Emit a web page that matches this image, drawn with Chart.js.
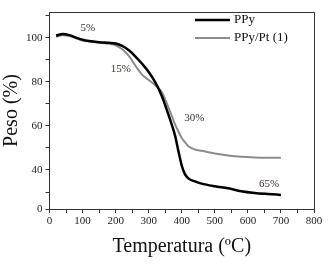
<!DOCTYPE html>
<html>
<head>
<meta charset="utf-8">
<script src="https://cdn.jsdelivr.net/npm/chart.js@4.4.0/dist/chart.umd.min.js"></script>
<style>
  body { margin: 0; background: #fff; }
  #wrap { width: 333px; height: 265px; }
</style>
</head>
<body>
<div id="wrap"><canvas id="tgaChart" width="333" height="265"></canvas></div>
<script>
// Data
const temps = [20, 40, 60, 80, 100, 120, 150, 180, 200, 220, 240, 260, 280, 300, 320, 340, 360, 370, 380, 390, 400, 410, 420, 440, 460, 500, 540, 580, 620, 660, 700];
const ppy   = [101, 101.7, 101.2, 100.1, 99.1, 98.5, 98, 97.7, 97.4, 96.3, 94.3, 91.5, 88.2, 84.5, 79.8, 73.5, 65, 60.5, 55.5, 48.5, 42, 38, 36.2, 34.8, 33.8, 32.6, 31.7, 30.4, 29.6, 29.1, 28.7];
const ppyPt = [100.5, 101.2, 100.8, 99.8, 98.8, 98.3, 97.8, 97.3, 96.6, 94.8, 91.8, 87.3, 83.3, 80.8, 78.5, 75.3, 68.3, 64.5, 60.6, 57.5, 54.5, 52.5, 50.8, 49.3, 48.7, 47.5, 46.6, 46, 45.7, 45.6, 45.6];
const seriesNames = ['PPy', 'PPy/Pt (1)'];

const yMin = 22.3, yMax = 111.7;
const yTickValues = [yMin, 30, 40, 50, 60, 70, 80, 90, 100, 110];
const yTickLabels = { 40: '40', 60: '60', 80: '80', 100: '100' };

// annotations: [text, temperature, weight]
const notes = [['5%', 116, 104.5], ['15%', 216, 85.9], ['30%', 438, 63.6], ['65%', 664, 33.6]];

const serif = "'Liberation Serif', 'DejaVu Serif', serif";

function toPoints(ys) {
    return temps.map((t, i) => ({ x: t, y: ys[i] }));
}

// frame, legend and text labels
const extras = {
    id: 'extras',
    afterDraw(chart) {
        const ctx = chart.ctx;
        const a = chart.chartArea;
        const xs = chart.scales.x, ys = chart.scales.y;
        ctx.save();
        ctx.strokeStyle = '#333';
        ctx.lineWidth = 1;
        ctx.beginPath();
        ctx.moveTo(a.left, a.top + 0.5);
        ctx.lineTo(a.right + 0.5, a.top + 0.5);
        ctx.lineTo(a.right + 0.5, a.bottom);
        ctx.stroke();

        // legend
        ctx.font = '13px ' + serif;
        ctx.textBaseline = 'middle';
        ctx.textAlign = 'left';
        chart.data.datasets.forEach((ds, i) => {
            const y = a.top + 8 + i * 18;
            ctx.strokeStyle = ds.borderColor;
            ctx.lineWidth = ds.borderWidth;
            ctx.beginPath();
            ctx.moveTo(a.right - 119, y);
            ctx.lineTo(a.right - 84, y);
            ctx.stroke();
            ctx.fillStyle = '#111';
            ctx.fillText(ds.label, a.right - 80, y);
        });

        // percentage notes
        ctx.font = '11px ' + serif;
        ctx.textAlign = 'center';
        ctx.fillStyle = '#3b2e2a';
        notes.forEach(n => {
            ctx.fillText(n[0], xs.getPixelForValue(n[1]), ys.getPixelForValue(n[2]));
        });
        ctx.restore();
    }
};

new Chart(document.getElementById('tgaChart'), {
    type: 'line',
    data: {
        datasets: [
            {
                label: seriesNames[0],
                data: toPoints(ppy),
                borderColor: '#000',
                borderWidth: 2.5,
                pointRadius: 0,
                cubicInterpolationMode: 'monotone'
            },
            {
                label: seriesNames[1],
                data: toPoints(ppyPt),
                borderColor: '#8c8c8c',
                borderWidth: 2,
                pointRadius: 0,
                cubicInterpolationMode: 'monotone'
            }
        ]
    },
    options: {
        responsive: false,
        animation: false,
        layout: { padding: { top: 12, right: 19, left: 0, bottom: 0 } },
        plugins: {
            legend: { display: false },
            tooltip: { enabled: false }
        },
        scales: {
            x: {
                type: 'linear',
                min: 0,
                max: 800,
                afterFit(scale) { scale.height = 56; },
                afterBuildTicks(scale) {
                    const t = [];
                    for (let v = 0; v <= 800; v += 50) t.push({ value: v });
                    scale.ticks = t;
                },
                ticks: {
                    autoSkip: false,
                    maxRotation: 0,
                    padding: 2,
                    color: '#222',
                    font: { family: serif, size: 11 },
                    callback: v => (v % 100 === 0 ? String(v) : '')
                },
                grid: { drawOnChartArea: false, tickLength: 4, color: '#333' },
                border: { color: '#333', width: 1 },
                title: {
                    display: true,
                    text: 'Temperatura (ºC)',
                    color: '#111',
                    font: { family: serif, size: 20 },
                    padding: { top: 0, bottom: 6 }
                }
            },
            y: {
                min: yMin,
                max: yMax,
                afterFit(scale) { scale.width = 49.5; },
                afterBuildTicks(scale) {
                    scale.ticks = yTickValues.map(v => ({ value: v }));
                },
                ticks: {
                    autoSkip: false,
                    padding: 3,
                    color: '#222',
                    font: { family: serif, size: 11 },
                    callback: v => (v === yMin ? '0' : (yTickLabels[v] || ''))
                },
                grid: { drawOnChartArea: false, tickLength: 4, color: '#333' },
                border: { color: '#333', width: 1 },
                title: {
                    display: true,
                    text: 'Peso (%)',
                    color: '#111',
                    font: { family: serif, size: 20 },
                    padding: 0
                }
            }
        }
    },
    plugins: [extras]
});
</script>
</body>
</html>
